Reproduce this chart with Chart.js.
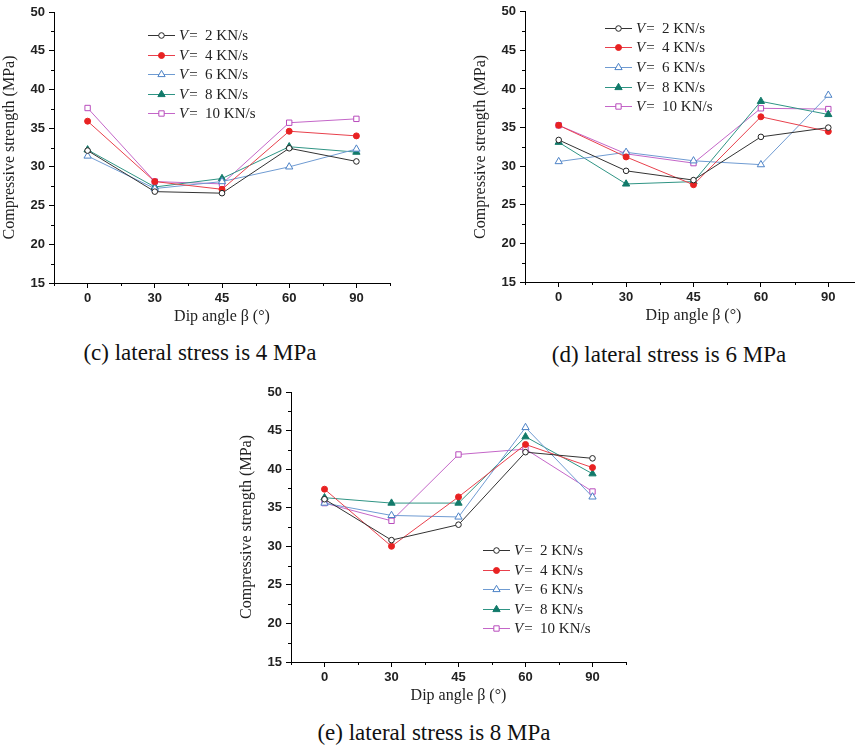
<!DOCTYPE html>
<html>
<head>
<meta charset="utf-8">
<script src="https://cdn.jsdelivr.net/npm/chart.js@4.4.1/dist/chart.umd.min.js"></script>
<style>
  html, body { margin: 0; padding: 0; background: #fff; overflow: hidden; }
  body { width: 855px; height: 749px; position: relative; }
  canvas { position: absolute; }
  .cap { position: absolute; font-family: "Liberation Serif", "Times New Roman", serif; font-size: 23px; color: #111; transform: translate(-50%, -50%); white-space: nowrap; }
</style>
</head>
<body>
<canvas id="p4" width="400" height="340" style="left:0px;top:0px"></canvas>
<canvas id="p6" width="400" height="340" style="left:471px;top:0px"></canvas>
<canvas id="p8" width="400" height="340" style="left:237px;top:380px"></canvas>
<div class="cap" style="left:200px;top:353px">(c) lateral stress is 4 MPa</div>
<div class="cap" style="left:669px;top:355px">(d) lateral stress is 6 MPa</div>
<div class="cap" style="left:434px;top:733px">(e) lateral stress is 8 MPa</div>
<script>
// categorías y velocidades de carga
const angles = ["0", "30", "45", "60", "90"];
const speeds = [2, 4, 6, 8, 10];
const yTicks = [15, 20, 25, 30, 35, 40, 45, 50];

// lateral stress 4 MPa
const s4_v2 = [32.1, 26.8, 26.6, 32.4, 30.7];
const s4_v4 = [35.9, 28.1, 27.1, 34.6, 34.0];
const s4_v6 = [31.4, 27.2, 28.1, 30.0, 32.3];
const s4_v8 = [32.2, 27.4, 28.5, 32.6, 31.9];
const s4_v10 = [37.6, 28.1, 27.8, 35.7, 36.2];

// lateral stress 6 MPa
const s6_v2 = [33.4, 29.4, 28.2, 33.8, 35.0];
const s6_v4 = [35.3, 31.2, 27.6, 36.4, 34.5];
const s6_v6 = [30.6, 31.8, 30.7, 30.2, 39.2];
const s6_v8 = [33.1, 27.7, 28.0, 38.4, 36.7];
const s6_v10 = [35.3, 31.6, 30.4, 37.5, 37.4];

// lateral stress 8 MPa
const s8_v2 = [36.1, 30.8, 32.8, 42.2, 41.4];
const s8_v4 = [37.4, 30.0, 36.4, 43.2, 40.2];
const s8_v6 = [35.6, 34.0, 33.8, 45.4, 36.4];
const s8_v8 = [36.3, 35.6, 35.6, 44.2, 39.4];
const s8_v10 = [35.6, 33.3, 41.9, 42.6, 37.1];

// estilos de cada serie
const styles = [
  { line: "#333333", fill: "#ffffff", border: "#222222", shape: "circle", r: 2.8 },
  { line: "#e8404c", fill: "#e82222", border: "#e82222", shape: "circle", r: 3.0 },
  { line: "#6f9bd2", fill: "#ffffff", border: "#4c82c6", shape: "triangle", r: 4.2 },
  { line: "#2f9484", fill: "#127a6a", border: "#127a6a", shape: "triangle", r: 4.2 },
  { line: "#c466c8", fill: "#ffffff", border: "#b84cbc", shape: "rect", r: 3.8 }
];

// mismo dibujo de marcadores que Chart.js
function drawMarker(ctx, st, x, y) {
  ctx.save();
  ctx.fillStyle = st.fill;
  ctx.strokeStyle = st.border;
  ctx.lineWidth = 1;
  ctx.beginPath();
  if (st.shape === "circle") {
    ctx.arc(x, y, st.r, 0, Math.PI * 2);
  } else if (st.shape === "triangle") {
    let a = 0;
    ctx.moveTo(x + Math.sin(a) * st.r, y - Math.cos(a) * st.r);
    a += Math.PI * 2 / 3;
    ctx.lineTo(x + Math.sin(a) * st.r, y - Math.cos(a) * st.r);
    a += Math.PI * 2 / 3;
    ctx.lineTo(x + Math.sin(a) * st.r, y - Math.cos(a) * st.r);
    ctx.closePath();
  } else {
    const s = st.r * Math.SQRT1_2;
    ctx.rect(x - s, y - s, 2 * s, 2 * s);
  }
  ctx.fill();
  ctx.stroke();
  ctx.restore();
}

// leyenda dentro del área del gráfico
const insideLegend = {
  id: "insideLegend",
  afterDraw(chart, args, opts) {
    const { ctx, chartArea } = chart;
    const x0 = chartArea.left + opts.dx;
    const y0 = chartArea.top + opts.dy;
    speeds.forEach((v, i) => {
      const st = styles[i];
      const y = Math.round(y0 + i * 19.6) + 0.5;
      ctx.save();
      ctx.strokeStyle = st.line;
      ctx.lineWidth = 1;
      ctx.beginPath();
      ctx.moveTo(x0, y);
      ctx.lineTo(x0 + 27, y);
      ctx.stroke();
      drawMarker(ctx, st, x0 + 13.5, y);
      ctx.fillStyle = "#222";
      ctx.textBaseline = "middle";
      ctx.font = 'italic 15px "Liberation Serif"';
      ctx.fillText("V", x0 + 31, y + 1);
      const w = ctx.measureText("V").width;
      ctx.font = '15px "Liberation Serif"';
      ctx.fillText("=  " + v + " KN/s", x0 + 32 + w, y + 1);
      ctx.restore();
    });
  }
};

// marcas menores de los ejes
const minorTicks = {
  id: "minorTicks",
  afterDraw(chart) {
    const { ctx } = chart;
    const xs = chart.scales.x, ys = chart.scales.y;
    ctx.save();
    ctx.strokeStyle = "#000";
    ctx.lineWidth = 1;
    ctx.beginPath();
    for (let i = 0; i <= angles.length; i++) {
      const px = Math.round(xs.getPixelForValue(i - 0.5)) + 0.5;
      ctx.moveTo(px, xs.top);
      ctx.lineTo(px, xs.top + 3);
    }
    for (let v = 17.5; v < 50; v += 5) {
      const py = Math.round(ys.getPixelForValue(v)) + 0.5;
      ctx.moveTo(ys.right - 3, py);
      ctx.lineTo(ys.right, py);
    }
    ctx.stroke();
    ctx.restore();
  }
};

function makePanel(id, series, pad, legendPos) {
  const ctx = document.getElementById(id);
  new Chart(ctx, {
    type: "line",
    data: {
      labels: angles,
      datasets: series.map((d, i) => ({
        label: "V= " + speeds[i] + " KN/s",
        data: d,
        borderColor: styles[i].line,
        borderWidth: 1,
        pointStyle: styles[i].shape,
        pointRadius: styles[i].r,
        pointBackgroundColor: styles[i].fill,
        pointBorderColor: styles[i].border,
        pointBorderWidth: 1,
        tension: 0,
        fill: false
      }))
    },
    options: {
      responsive: false,
      animation: false,
      layout: { padding: pad },
      plugins: {
        legend: { display: false },
        tooltip: { enabled: false },
        insideLegend: legendPos
      },
      scales: {
        x: {
          offset: true,
          afterFit: (s) => { s.height = 47; },
          grid: { display: true, drawOnChartArea: false, drawTicks: true, tickLength: 5, offset: false, color: "#000" },
          border: { color: "#000", width: 1 },
          ticks: { color: "#222", padding: 3, font: { family: "Liberation Sans", size: 13, weight: "bold" } },
          title: { display: true, text: "Dip angle β (°)", color: "#222", padding: { top: 0, bottom: 4 }, font: { family: "Liberation Serif", size: 16 } }
        },
        y: {
          min: 15,
          max: 50,
          afterFit: (s) => { s.width = 54; },
          afterBuildTicks: (s) => { s.ticks = yTicks.map(v => ({ value: v })); },
          grid: { display: true, drawOnChartArea: false, drawTicks: true, tickLength: 5, color: "#000" },
          border: { color: "#000", width: 1 },
          ticks: { color: "#222", padding: 4, font: { family: "Liberation Sans", size: 13, weight: "bold" } },
          title: { display: true, text: "Compressive strength (MPa)", color: "#222", padding: { top: 0, bottom: 2 }, font: { family: "Liberation Serif", size: 16 } }
        }
      }
    },
    plugins: [insideLegend, minorTicks]
  });
}

document.addEventListener("DOMContentLoaded", () => {
  makePanel("p4", [s4_v2, s4_v4, s4_v6, s4_v8, s4_v10],
    { left: 0, top: 12, right: 10, bottom: 10 }, { dx: 94, dy: 23 });
  makePanel("p6", [s6_v2, s6_v4, s6_v6, s6_v8, s6_v10],
    { left: 0, top: 10, right: 9, bottom: 11 }, { dx: 80, dy: 16 });
  makePanel("p8", [s8_v2, s8_v4, s8_v6, s8_v8, s8_v10],
    { left: 0, top: 12, right: 11, bottom: 11 }, { dx: 192, dy: 158 });
});
</script>
</body>
</html>
